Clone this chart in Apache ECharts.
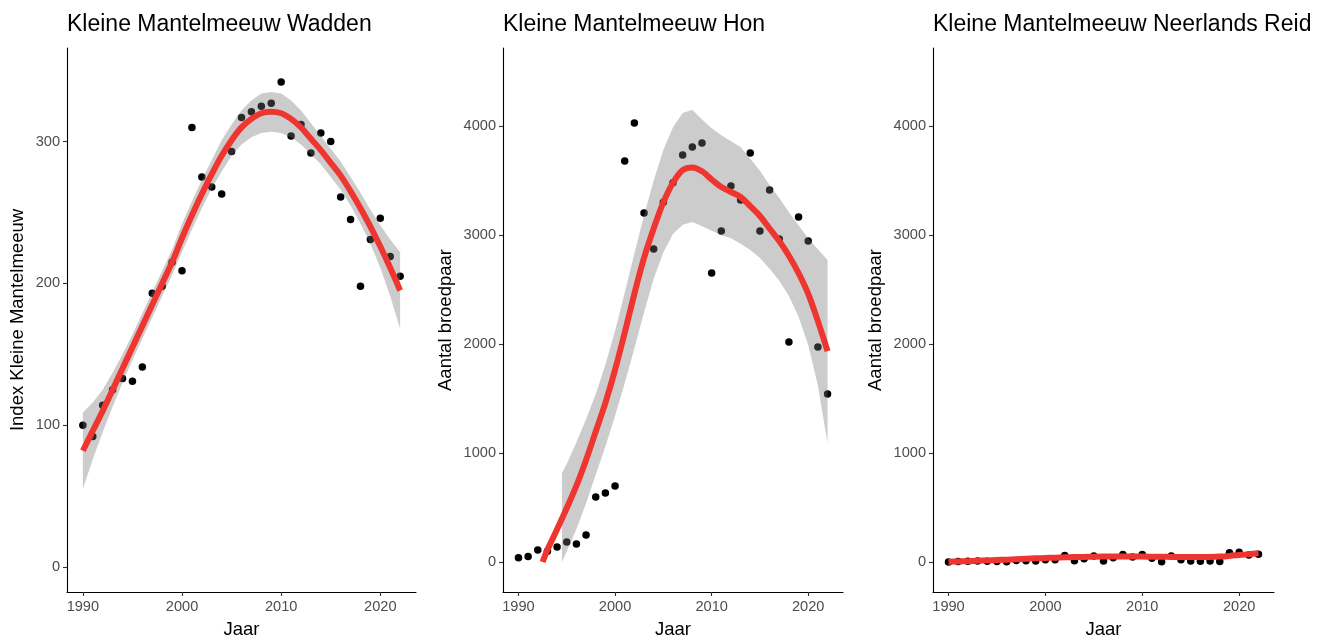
<!DOCTYPE html>
<html>
<head>
<meta charset="utf-8">
<script src="https://cdn.jsdelivr.net/npm/echarts@6/dist/echarts.min.js"></script>
<style>
  html, body { margin: 0; padding: 0; background: #fff; }
  #chart { width: 1328px; height: 637px; }
</style>
</head>
<body>
<div id="chart"></div>
<script>
// ---- Observed counts per year ----
const years = [1990, 1991, 1992, 1993, 1994, 1995, 1996, 1997, 1998, 1999, 2000, 2001, 2002, 2003, 2004, 2005, 2006, 2007, 2008, 2009, 2010, 2011, 2012, 2013, 2014, 2015, 2016, 2017, 2018, 2019, 2020, 2021, 2022];

const waddenIndex = [100, 92, 114, 125, 133, 131, 141, 193, 198, 215, 209, 310, 275, 268, 263, 293, 317, 321, 325, 327, 342, 304, 312, 292, 306, 300, 261, 245, 198, 231, 246, 219, 205];
const honPairs = [40, 50, 110, 100, 138, 183, 165, 248, 596, 633, 697, 3679, 4028, 3202, 2872, 3300, 3480, 3734, 3807, 3844, 2651, 3037, 3450, 3321, 3752, 3037, 3413, 2963, 2018, 3165, 2945, 1972, 1541];
const reidPairs = [0, 5, 8, 10, 8, 5, 3, 15, 12, 10, 20, 22, 60, 12, 30, 55, 10, 40, 70, 45, 70, 35, 2, 55, 20, 10, 8, 10, 5, 85, 90, 65, 72];

// ---- Loess trend and its confidence band ----
const waddenFit = [82, 96, 110, 125, 140, 155, 170, 185, 200, 215, 232, 248, 263, 277, 290, 301, 310, 316, 320, 321, 320, 316, 310, 302, 294, 285, 276, 265, 253, 240, 226, 211, 195];
const waddenLower = [55, 76, 95, 113, 130, 146, 161, 176, 191, 206, 222, 238, 253, 267, 279, 290, 298, 303, 306, 307, 306, 303, 298, 291, 284, 275, 266, 255, 242, 228, 211, 191, 168];
const waddenUpper = [109, 116, 125, 137, 150, 164, 179, 194, 209, 224, 242, 258, 273, 287, 301, 312, 322, 329, 334, 335, 334, 329, 322, 313, 304, 295, 286, 275, 264, 252, 241, 231, 222];

// Hon trend is only drawn where it stays above zero
const honFitYears = [1992.5, 1993, 1994, 1995, 1996, 1997, 1998, 1999, 2000, 2001, 2002, 2003, 2004, 2005, 2006, 2007, 2008, 2009, 2010, 2011, 2012, 2013, 2014, 2015, 2016, 2017, 2018, 2019, 2020, 2021, 2022];
const honFit = [0, 112, 300, 495, 700, 937, 1198, 1460, 1763, 2104, 2460, 2790, 3060, 3300, 3480, 3595, 3620, 3585, 3510, 3440, 3395, 3349, 3265, 3175, 3060, 2945, 2810, 2650, 2460, 2210, 1935];
const honBandYears = [1994.5, 1995, 1996, 1997, 1998, 1999, 2000, 2001, 2002, 2003, 2004, 2005, 2006, 2007, 2008, 2009, 2010, 2011, 2012, 2013, 2014, 2015, 2016, 2017, 2018, 2019, 2020, 2021, 2022];
const honLower = [0, 100, 300, 540, 800, 1060, 1340, 1640, 1960, 2290, 2600, 2840, 3010, 3095, 3119, 3080, 3040, 3000, 2970, 2920, 2862, 2790, 2690, 2580, 2440, 2250, 1990, 1620, 1092];
const honUpper = [817, 900, 1100, 1310, 1540, 1810, 2120, 2470, 2830, 3180, 3500, 3780, 3990, 4120, 4150, 4060, 3980, 3915, 3860, 3807, 3700, 3590, 3460, 3340, 3210, 3090, 2970, 2870, 2770];

const reidFit = [2, 5, 8, 12, 15, 19, 22, 26, 30, 34, 37, 40, 43, 45, 47, 49, 50, 50, 50, 50, 50, 49, 48, 47, 46, 46, 46, 47, 50, 56, 64, 72, 80];

// ---- Axis ticks ----
const yearTicks = [1990, 2000, 2010, 2020];
const indexTicks = [0, 100, 200, 300];
const pairTicks = [0, 1000, 2000, 3000, 4000];

const titles = ['Kleine Mantelmeeuw Wadden', 'Kleine Mantelmeeuw Hon', 'Kleine Mantelmeeuw Neerlands Reid'];
const yNames = ['Index Kleine Mantelmeeuw', 'Aantal broedpaar', 'Aantal broedpaar'];

// ---- Styling ----
const FONT = 'Liberation Sans, Arial, Helvetica, sans-serif';
const RED = '#EE3530';
const BAND = 'rgba(118,118,118,0.37)';

const pair = (xs, ys) => xs.map((x, i) => [x, ys[i]]);
const rows = (xs, lo, hi) => xs.map((x, i) => [x, lo[i], hi[i]]);
const plain = v => String(v);

const grids = [
  { left: 67, top: 48, width: 349, height: 544, outerBoundsMode: 'none' },
  { left: 503, top: 48, width: 340, height: 544, outerBoundsMode: 'none' },
  { left: 933, top: 48, width: 341, height: 544, outerBoundsMode: 'none' }
];

function xAxis(idx) {
  return {
    gridIndex: idx, type: 'value', min: 1988.4, max: 2023.6,
    name: 'Jaar', nameLocation: 'middle', nameGap: 28,
    nameTextStyle: { fontFamily: FONT, fontSize: 18.5, color: '#000' },
    axisLine: { show: true, onZero: false, lineStyle: { color: '#000', width: 1.1 } },
    axisTick: { show: true, customValues: yearTicks, length: 4, lineStyle: { color: '#333', width: 1.1 } },
    axisLabel: { customValues: yearTicks, formatter: plain, color: '#4D4D4D', fontFamily: FONT, fontSize: 14.6, margin: 7 },
    splitLine: { show: false }
  };
}
function yAxis(idx, min, max, ticks, gap) {
  return {
    gridIndex: idx, type: 'value', min: min, max: max,
    name: yNames[idx], nameLocation: 'middle', nameGap: gap, nameRotate: 90,
    nameTextStyle: { fontFamily: FONT, fontSize: 18.5, color: '#000' },
    axisLine: { show: true, onZero: false, lineStyle: { color: '#000', width: 1.1 } },
    axisTick: { show: true, customValues: ticks, length: 4, lineStyle: { color: '#333', width: 1.1 } },
    axisLabel: { customValues: ticks, formatter: plain, color: '#4D4D4D', fontFamily: FONT, fontSize: 14.6, margin: 7 },
    splitLine: { show: false }
  };
}

function points(idx, ys) {
  return {
    type: 'scatter', xAxisIndex: idx, yAxisIndex: idx, z: 2,
    symbolSize: 7.5, itemStyle: { color: '#000', opacity: 1 },
    data: pair(years, ys), silent: true
  };
}
// Confidence ribbon drawn as one polygon through the axis scales
function band(idx, bandRows) {
  return {
    type: 'custom', xAxisIndex: idx, yAxisIndex: idx, z: 3, silent: true,
    data: bandRows,
    encode: { x: 0, y: [1, 2] },
    renderItem: function (params, api) {
      if (params.dataIndex !== 0) return null;
      const pts = [];
      for (let i = 0; i < bandRows.length; i++) pts.push(api.coord([bandRows[i][0], bandRows[i][2]]));
      for (let i = bandRows.length - 1; i >= 0; i--) pts.push(api.coord([bandRows[i][0], bandRows[i][1]]));
      return { type: 'polygon', shape: { points: pts }, style: { fill: BAND } };
    }
  };
}
function trend(idx, data) {
  return {
    type: 'line', xAxisIndex: idx, yAxisIndex: idx, z: 4, silent: true,
    data: data, smooth: 0.35, symbol: 'none',
    lineStyle: { color: RED, width: 6, cap: 'butt', join: 'round' }
  };
}

const option = {
  backgroundColor: '#fff',
  animation: false,
  title: titles.map((t, i) => ({
    text: t, left: grids[i].left, top: 13, padding: 0,
    textStyle: { fontFamily: FONT, fontSize: 23, fontWeight: 'normal', color: '#000' }
  })),
  grid: grids,
  xAxis: [xAxis(0), xAxis(1), xAxis(2)],
  yAxis: [
    yAxis(0, -17.6, 366, indexTicks, 40),
    yAxis(1, -275, 4716, pairTicks, 48),
    yAxis(2, -275, 4716, pairTicks, 48)
  ],
  series: [
    points(0, waddenIndex),
    band(0, rows(years, waddenLower, waddenUpper)),
    trend(0, pair(years, waddenFit)),
    points(1, honPairs),
    band(1, rows(honBandYears, honLower, honUpper)),
    trend(1, pair(honFitYears, honFit)),
    points(2, reidPairs),
    trend(2, pair(years, reidFit))
  ]
};

const chart = echarts.init(document.getElementById('chart'), null, { renderer: 'canvas' });
chart.setOption(option);
</script>
</body>
</html>
